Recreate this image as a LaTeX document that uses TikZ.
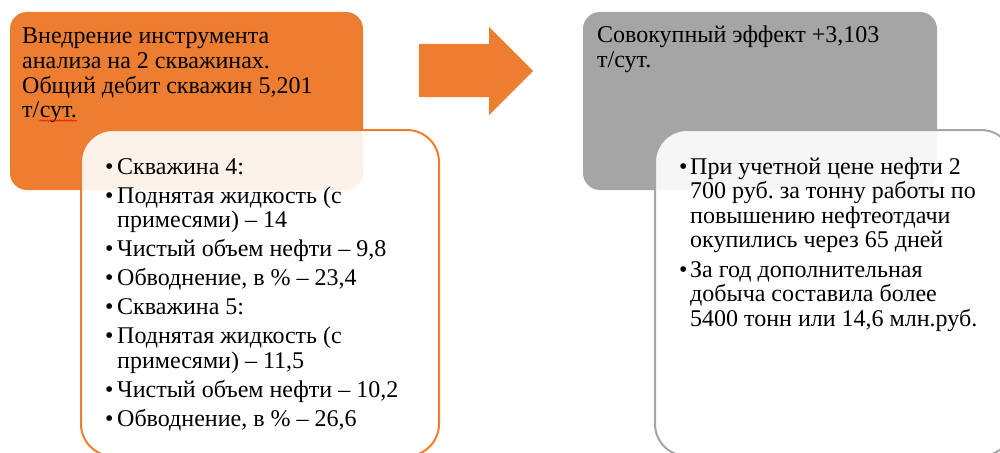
\documentclass[tikz,border=0pt]{standalone}
\usepackage{fontspec}
\setmainfont{Liberation Serif}
\newfontfamily\tnr{Liberation Serif}
\frenchspacing
\usetikzlibrary{decorations.pathmorphing,calc}
\definecolor{orng}{HTML}{ED7D31}
\definecolor{gry}{HTML}{A5A5A5}
\tikzset{
  ln/.style={anchor=base west, inner sep=0pt, font=\tnr\fontsize{24pt}{24.5pt}\selectfont\frenchspacing, text=black},
  bul/.style={anchor=base west, inner sep=0pt, font=\tnr\fontsize{24pt}{24.5pt}\selectfont, text=black},
  headbox/.style={rounded corners=17pt},
  listbox/.style={rounded corners=32pt, line width=2pt, fill=white, fill opacity=0.9},
}
\begin{document}
\begin{tikzpicture}[x=1pt,y=-1pt]
\useasboundingbox (0,0) rectangle (1000,452);
\clip (0,0) rectangle (1000,452);
\fill[white] (0,0) rectangle (1000,452);
% header boxes
\fill[orng, headbox] (10,12) rectangle (363,190);
\fill[gry, headbox] (583,12) rectangle (937,190);
% arrow
\fill[orng] (419,44) -- (489,44) -- (489,27) -- (533,71) -- (489,115) -- (489,97) -- (419,97) -- cycle;
% list boxes
\draw[listbox, draw=orng] (81,130) rectangle (439,456);
\draw[listbox, draw=gry] (655,130) rectangle (1013,456);
% orange header text
\node[ln] (o1) at (22,44) {Внедрение инструмента};
\node[ln] (o2) at (22,68.5) {анализа на 2 скважинах.};
\node[ln] (o3) at (22,93) {Общий дебит скважин 5,201};
\node[ln] (o4) at (22,117.5) {т/};
\node[ln, anchor=base west] (o4b) at (o4.base east) {сут.};
\draw[red, line width=0.5pt, decorate, decoration={snake, amplitude=0.7pt, segment length=2.4pt}]
  ($(o4b.base west)+(0,3)$) -- ($(o4b.base east)+(0,3)$);
% gray header text
\node[ln] (g1) at (597,43) {Совокупный эффект +3,103};
\node[ln] (g2) at (597,67.5) {т/сут.};
% left list
\foreach \y/\t [count=\i] in {174/{Скважина 4:}, 203/{Поднятая жидкость (с}, 256.5/{Чистый объем нефти – 9,8}, 285.5/{Обводнение, в \% – 23,4}, 314.5/{Скважина 5:}, 343.5/{Поднятая жидкость (с}, 397/{Чистый объем нефти – 10,2}, 426/{Обводнение, в \% – 26,6}}{
  \node[bul] (lb\i) at (105,\y) {•};
  \node[ln] (lt\i) at (117,\y) {\t};
}
\node[ln] (lc1) at (117,227.5) {примесями) – 14};
\node[ln] (lc2) at (117,368) {примесями) – 11,5};
% right list
\node[bul] (rb1) at (679,174) {•};
\node[ln] (r1) at (690,174) {При учетной цене нефти 2};
\node[ln] (r2) at (690,198.6) {700 руб. за тонну работы по};
\node[ln] (r3) at (690,223.2) {повышению нефтеотдачи};
\node[ln] (r4) at (690,247.8) {окупились через 65 дней};
\node[bul] (rb2) at (679,277) {•};
\node[ln] (r5) at (690,277) {За год дополнительная};
\node[ln] (r6) at (690,301.6) {добыча составила более};
\node[ln] (r7) at (690,326.2) {5400 тонн или 14,6 млн.руб.};
\end{tikzpicture}
\end{document}
